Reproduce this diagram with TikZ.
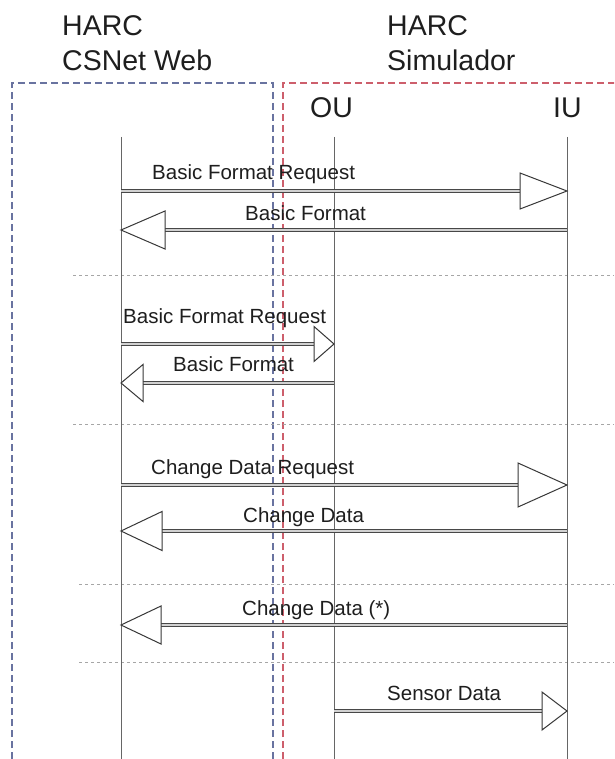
\documentclass[tikz,border=0pt]{standalone}
\usepackage{fontspec}
\setmainfont{Liberation Sans}
\usetikzlibrary{calc}
\definecolor{bluebox}{RGB}{105,115,160}
\definecolor{redbox}{RGB}{205,95,108}
\definecolor{txt}{RGB}{30,30,30}
\newcommand\msg[5]{%
  \coordinate (ms) at (#1 |- #3);
  \coordinate (me) at (#2 |- #3);
  \coordinate (mh) at ($(me)!#4pt!(ms)$);
  \draw[shaft] (ms) -- (mh);
  \draw[headtri] (me) -- ($(mh)+(0,#5)$) -- ($(mh)+(0,-#5)$) -- cycle;
}
\begin{document}
\begin{tikzpicture}[x=1pt,y=-1pt,
  hdr/.style={font=\fontsize{28.5}{30}\selectfont, text=txt, inner sep=0pt, anchor=base west},
  lbl/.style={font=\fontsize{20.5}{22}\selectfont, text=txt, inner sep=0pt, anchor=base west},
  life/.style={draw=black!60, line width=1pt},
  sep/.style={draw=black!35, line width=0.6pt, dash pattern=on 3pt off 3pt},
  bbox/.style={line width=1.4pt, dash pattern=on 7pt off 4pt},
  shaft/.style={draw=black!72, line width=1pt, double=black!18, double distance=2pt},
  headtri/.style={draw=black!78, line width=1pt, fill=white, line join=miter}]
\clip (0,0) rectangle (614,759);
\fill[white] (0,0) rectangle (614,759);
% headers
\node[hdr] (h1) at (62,36) {HARC};
\node[hdr] (h2) at (62,71) {CSNet Web};
\node[hdr] (h3) at (387,36) {HARC};
\node[hdr] (h4) at (387,71) {Simulador};
\node[hdr] (ou) at (310,118) {OU};
\node[hdr] (iu) at (553,118) {IU};
% boxes
\draw[bbox, draw=bluebox] (12,770) -- (12,83) -- (273,83) -- (273,770);
\draw[bbox, draw=redbox] (283,770) -- (283,83) -- (630,83);
% separators
\coordinate (s1a) at (73,275); \coordinate (s1b) at (614,275);
\coordinate (s2a) at (73,424); \coordinate (s2b) at (614,424);
\coordinate (s3a) at (79,584); \coordinate (s3b) at (614,584);
\coordinate (s4a) at (79,662); \coordinate (s4b) at (614,662);
\draw[sep] (s1a) -- (s1b);
\draw[sep] (s2a) -- (s2b);
\draw[sep] (s3a) -- (s3b);
\draw[sep] (s4a) -- (s4b);
% lifelines
\coordinate (L) at (121,137); \coordinate (Lb) at (121,770);
\coordinate (O) at (334,137); \coordinate (Ob) at (334,770);
\coordinate (I) at (567,137); \coordinate (Ib) at (567,770);
\draw[life] (L) -- (Lb);
\draw[life] (O) -- (Ob);
\draw[life] (I) -- (Ib);
% rows
\coordinate (r1) at (0,191);
\coordinate (r2) at (0,230);
\coordinate (r3) at (0,344);
\coordinate (r4) at (0,383);
\coordinate (r5) at (0,485);
\coordinate (r6) at (0,531);
\coordinate (r7) at (0,625);
\coordinate (r8) at (0,711);
\msg{L}{I}{r1}{47}{18}
\msg{I}{L}{r2}{44}{19}
\msg{L}{O}{r3}{20}{17.5}
\msg{O}{L}{r4}{22}{18.5}
\msg{L}{I}{r5}{49}{22}
\msg{I}{L}{r6}{41}{19.5}
\msg{I}{L}{r7}{40}{19}
\msg{O}{I}{r8}{25}{19}
% labels
\node[lbl] (t1) at (152,180) {Basic Format Request};
\node[lbl] (t2) at (245,220) {Basic Format};
\node[lbl] (t3) at (123,323) {Basic Format Request};
\node[lbl] (t4) at (173,371) {Basic Format};
\node[lbl] (t5) at (151,474) {Change Data Request};
\node[lbl] (t6) at (243,522) {Change Data};
\node[lbl] (t7) at (242,615) {Change Data (*)};
\node[lbl] (t8) at (387,700) {Sensor Data};
\end{tikzpicture}
\end{document}
